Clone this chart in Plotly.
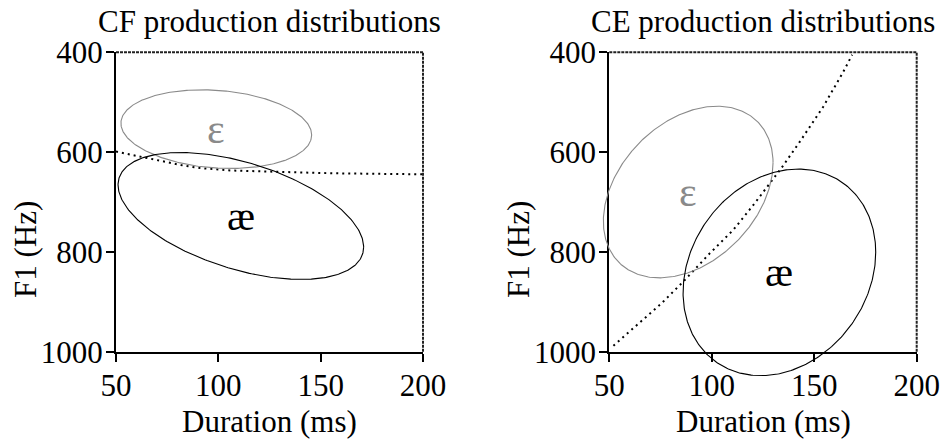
import numpy as np
import plotly.graph_objects as go

W, H = 943, 439
FONT = "Liberation Serif, Times New Roman, serif"

panel_titles = ["CF production distributions", "CE production distributions"]
vowels = ["ε", "æ"]
vowel_colors = ["#8a8a8a", "#000000"]

# Production categories (ε, æ): mean duration (ms), mean F1 (Hz), SDs and correlation
cf_mean_dur = [99.0, 111.0]
cf_mean_f1 = [554.0, 728.0]
cf_sd_dur = [23.3, 30.0]
cf_sd_f1 = [39.4, 63.6]
cf_corr = [0.15, 0.49]

ce_mean_dur = [88.5, 133.0]
ce_mean_f1 = [680.0, 841.0]
ce_sd_dur = [20.7, 23.5]
ce_sd_f1 = [86.0, 103.5]
ce_corr = [-0.34, -0.195]

# Category boundaries between ε and æ
cf_bound_dur = [50, 62, 75, 83, 91, 107, 125, 156, 200]
cf_bound_f1 = [599, 609, 621, 627, 632, 637, 639, 642.5, 644.5]

ce_bound_dur = [52, 75.5, 86, 99, 110.5, 120.3, 134, 143, 154.4, 164.2, 168.5]
ce_bound_f1 = [988, 903, 860, 803, 756, 706, 632, 579, 509, 439, 405]

x_ticks = [50, 100, 150, 200]
y_ticks = [400, 600, 800, 1000]
x_range = [50, 200]
y_range = [1000, 400]

N_SD = 2  # contour drawn at 2 standard deviations

# subplot placement (paper fractions)
x_domains = [[116.0 / W, 423.0 / W], [609.3 / W, 916.7 / W]]
y_domain = [(H - 351.7) / H, (H - 52.3) / H]


def outer_range(r, d):
    k = (r[1] - r[0]) / (d[1] - d[0])
    return [r[0] - d[0] * k, r[1] + (1 - d[1]) * k]


def ellipse(mx, my, sx, sy, rho):
    t = np.linspace(0, 2 * np.pi, 361)
    x = mx + N_SD * sx * np.cos(t)
    y = my + N_SD * sy * (rho * np.cos(t) + np.sqrt(1 - rho ** 2) * np.sin(t))
    return x, y


fig = go.Figure()

panels = [
    (cf_mean_dur, cf_mean_f1, cf_sd_dur, cf_sd_f1, cf_corr, cf_bound_dur, cf_bound_f1),
    (ce_mean_dur, ce_mean_f1, ce_sd_dur, ce_sd_f1, ce_corr, ce_bound_dur, ce_bound_f1),
]

layout = dict(
    width=W, height=H,
    margin=dict(l=0, r=0, t=0, b=0, autoexpand=False),
    paper_bgcolor="white", plot_bgcolor="rgba(0,0,0,0)",
    showlegend=False,
    font=dict(family=FONT, size=31, color="black"),
)
annotations = []
shapes = []

for i, (mdur, mf1, sdur, sf1, corr, bdur, bf1) in enumerate(panels):
    n = i + 1
    xa, ya = f"x{'' if n == 1 else n}", f"y{'' if n == 1 else n}"
    # free-running axes spanning the whole figure at the same scale,
    # so the ellipses are not clipped at the frame
    on = n + 2
    oxa, oya = f"x{on}", f"y{on}"

    common = dict(showgrid=False, zeroline=False, showline=True, linewidth=2,
                  linecolor="black", ticks="outside", ticklen=8, tickwidth=2,
                  tickcolor="black", tickfont=dict(family=FONT, size=31, color="black"))
    layout[f"xaxis{'' if n == 1 else n}"] = dict(
        common, domain=x_domains[i], range=x_range, tickvals=x_ticks, anchor=ya,
        ticklabelstandoff=-3)
    layout[f"yaxis{'' if n == 1 else n}"] = dict(
        common, domain=y_domain, range=y_range, tickvals=y_ticks, anchor=xa,
        ticklabelstandoff=-3)
    layout[f"xaxis{on}"] = dict(domain=[0, 1], range=outer_range(x_range, x_domains[i]),
                                visible=False, anchor=oya, fixedrange=True)
    layout[f"yaxis{on}"] = dict(domain=[0, 1], range=outer_range(y_range, y_domain),
                                visible=False, anchor=oxa, fixedrange=True)

    # boundary
    fig.add_trace(go.Scatter(x=bdur, y=bf1, mode="lines", xaxis=xa, yaxis=ya,
                             line=dict(color="black", width=2, dash="2px,4px"),
                             hoverinfo="skip"))
    # production ellipses and vowel labels
    for j in range(2):
        ex, ey = ellipse(mdur[j], mf1[j], sdur[j], sf1[j], corr[j])
        fig.add_trace(go.Scatter(x=ex, y=ey, mode="lines", xaxis=oxa, yaxis=oya,
                                 line=dict(color=vowel_colors[j], width=1.1),
                                 hoverinfo="skip"))
        annotations.append(dict(x=mdur[j], y=mf1[j], xref=xa, yref=ya, text=vowels[j],
                                showarrow=False, xanchor="center", yanchor="middle",
                                font=dict(family=FONT, size=42, color=vowel_colors[j])))

    # dashed top and right frame edges
    for (x0, y0, x1, y1) in [(0, 1, 1, 1), (1, 0, 1, 1)]:
        shapes.append(dict(type="line", xref=f"{xa} domain", yref=f"{ya} domain",
                           x0=x0, y0=y0, x1=x1, y1=y1,
                           line=dict(color="#222222", width=2, dash="3px,1px")))

    xc = (x_domains[i][0] + x_domains[i][1]) / 2
    annotations.append(dict(x=xc, y=(H - 22) / H, xref="paper", yref="paper",
                            text=panel_titles[i], showarrow=False,
                            xanchor="center", yanchor="middle",
                            font=dict(family=FONT, size=31)))
    annotations.append(dict(x=xc, y=(H - 421) / H, xref="paper", yref="paper",
                            text="Duration (ms)", showarrow=False,
                            xanchor="center", yanchor="middle",
                            font=dict(family=FONT, size=31)))
    annotations.append(dict(x=[25, 518][i] / W, y=(H - 250) / H, xref="paper", yref="paper",
                            text="F1 (Hz)", showarrow=False, textangle=-90,
                            xanchor="center", yanchor="middle",
                            font=dict(family=FONT, size=31)))

layout["annotations"] = annotations
layout["shapes"] = shapes
fig.update_layout(**layout)

fig.write_html("out.html")
